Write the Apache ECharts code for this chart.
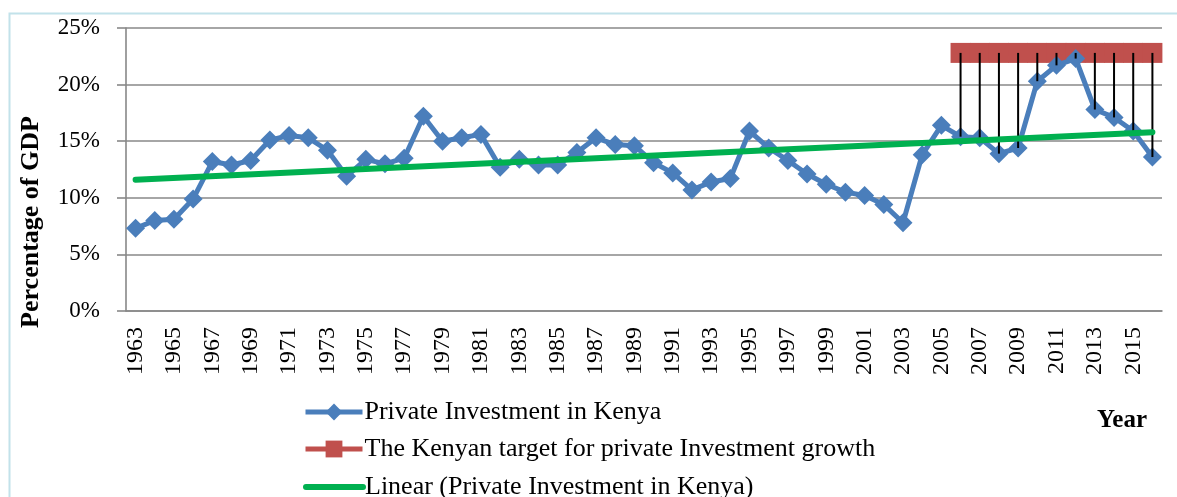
<!DOCTYPE html>
<html>
<head>
<meta charset="utf-8">
<script src="https://cdn.jsdelivr.net/npm/echarts@6/dist/echarts.min.js"></script>
<style>
html,body{margin:0;padding:0;background:#fff;}
#chart{width:1177px;height:497px;}
</style>
</head>
<body>
<div id="chart"></div>
<script>
const years = ['1963','1964','1965','1966','1967','1968','1969','1970','1971','1972','1973','1974','1975','1976','1977','1978','1979','1980','1981','1982','1983','1984','1985','1986','1987','1988','1989','1990','1991','1992','1993','1994','1995','1996','1997','1998','1999','2000','2001','2002','2003','2004','2005','2006','2007','2008','2009','2010','2011','2012','2013','2014','2015','2016'];
const privateInvestment = [7.3,8.0,8.1,9.9,13.2,12.9,13.3,15.1,15.5,15.3,14.2,11.9,13.4,13.0,13.5,17.2,15.0,15.3,15.6,12.7,13.4,12.9,12.9,14.0,15.3,14.7,14.6,13.1,12.2,10.7,11.4,11.7,15.9,14.4,13.3,12.1,11.2,10.5,10.2,9.4,7.8,13.8,16.4,15.4,15.3,13.9,14.4,20.3,21.7,22.3,17.8,17.1,15.9,13.6];
const targetYears = ['2006','2007','2008','2009','2010','2011','2012','2013','2014','2015','2016'];
const targetValues = [22.8,22.8,22.8,22.8,22.8,22.8,22.8,22.8,22.8,22.8,22.8];
const trendYears = ['1963','2016'];
const trendValues = [11.6,15.8];
const yTicks = [0,5,10,15,20,25];

const seriesNames = ['Private Investment in Kenya','The Kenyan target for private Investment growth','Linear (Private Investment in Kenya)'];

const targetData = years.map(y => { const i = targetYears.indexOf(y); return i >= 0 ? targetValues[i] : null; });
const hiLo = [];
targetYears.forEach((y, k) => { const i = years.indexOf(y); hiLo.push([i, targetValues[k], privateInvestment[i]]); });
const trendData = trendYears.map((y, k) => [y, trendValues[k]]);

const FONT = "'Liberation Serif','Times New Roman',serif";
const BLUE = '#4A7EBB', RED = '#C0504D', GREEN = '#00B050';
const legendItems = [
  {name: seriesNames[0], lineStyle: {width: 5, color: BLUE}},
  {name: seriesNames[1], lineStyle: {width: 5, color: RED}},
  {name: seriesNames[2], lineStyle: {width: 6, color: GREEN, cap: 'round'}, itemStyle: {color: 'rgba(0,0,0,0)', opacity: 0}}
];
const legendTops = [399, 436, 474];
const legends = legendItems.map((it, k) => ({
  data: [it], orient: 'vertical', left: 303, top: legendTops[k], padding: 0,
  itemWidth: 57, itemHeight: 21,
  textStyle: {fontFamily: FONT, fontSize: 26, color: '#000', lineHeight: 22, padding: [0,0,0,-3]}
}));

const chart = echarts.init(document.getElementById('chart'), null, {renderer:'canvas'});
chart.setOption({
  animation: false,
  backgroundColor: '#ffffff',
  grid: {left: 126, right: 15, top: 28, bottom: 186, containLabel: false},
  xAxis: {
    type: 'category', data: years, boundaryGap: true,
    axisLine: {show: true, lineStyle: {color: '#888888', width: 1.6}},
    axisTick: {show: false},
    axisLabel: {interval: 1, rotate: 90, margin: 16, color: '#000', fontFamily: FONT, fontSize: 24}
  },
  yAxis: {
    type: 'value', min: yTicks[0], max: yTicks[yTicks.length-1], interval: 5,
    axisLine: {show: true, lineStyle: {color: '#888888', width: 1.6}},
    axisTick: {show: true, inside: false, length: 9, lineStyle: {color: '#888888', width: 1.6}},
    splitLine: {show: true, lineStyle: {color: '#888888', width: 1.6}},
    axisLabel: {margin: 26, color: '#000', fontFamily: FONT, fontSize: 23, formatter: v => v + '%'}
  },
  legend: legends,
  graphic: [
    {type: 'rect', silent: true, z: -10, shape: {x: 9.5, y: 13.5, width: 1200, height: 520}, style: {fill: 'none', stroke: '#c2e2ea', lineWidth: 2}},
    {type: 'text', x: 31, y: 222, rotation: Math.PI/2, style: {text: 'Percentage of GDP', fontFamily: FONT, fontSize: 26, fontWeight: 'bold', fill: '#000', align: 'center', verticalAlign: 'middle'}},
    {type: 'text', x: 1122, y: 421, style: {text: 'Year', fontFamily: FONT, fontSize: 25, fontWeight: 'bold', fill: '#000', align: 'center', verticalAlign: 'middle'}}
  ],
  series: [
    {
      name: seriesNames[1], type: 'line', data: targetData, z: 2,
      symbol: 'rect', symbolSize: [20, 20], showAllSymbol: true,
      itemStyle: {color: RED}, lineStyle: {color: RED, width: 6}
    },
    {
      name: seriesNames[0], type: 'line', data: privateInvestment, z: 3,
      symbol: 'diamond', symbolSize: 19, showAllSymbol: true,
      itemStyle: {color: BLUE}, lineStyle: {color: BLUE, width: 5}
    },
    {
      type: 'custom', data: hiLo, z: 4, silent: true,
      encode: {x: 0, y: [1, 2]},
      renderItem: function (params, api) {
        const p1 = api.coord([api.value(0), api.value(1)]);
        const p2 = api.coord([api.value(0), api.value(2)]);
        return {type: 'line', shape: {x1: p1[0], y1: p1[1], x2: p2[0], y2: p2[1]}, style: {stroke: '#000', lineWidth: 2}};
      }
    },
    {
      name: seriesNames[2], type: 'line', data: trendData, z: 5,
      symbol: 'circle', showSymbol: false, itemStyle: {color: GREEN},
      lineStyle: {color: GREEN, width: 6, cap: 'round'}
    }
  ]
});
</script>
</body>
</html>
